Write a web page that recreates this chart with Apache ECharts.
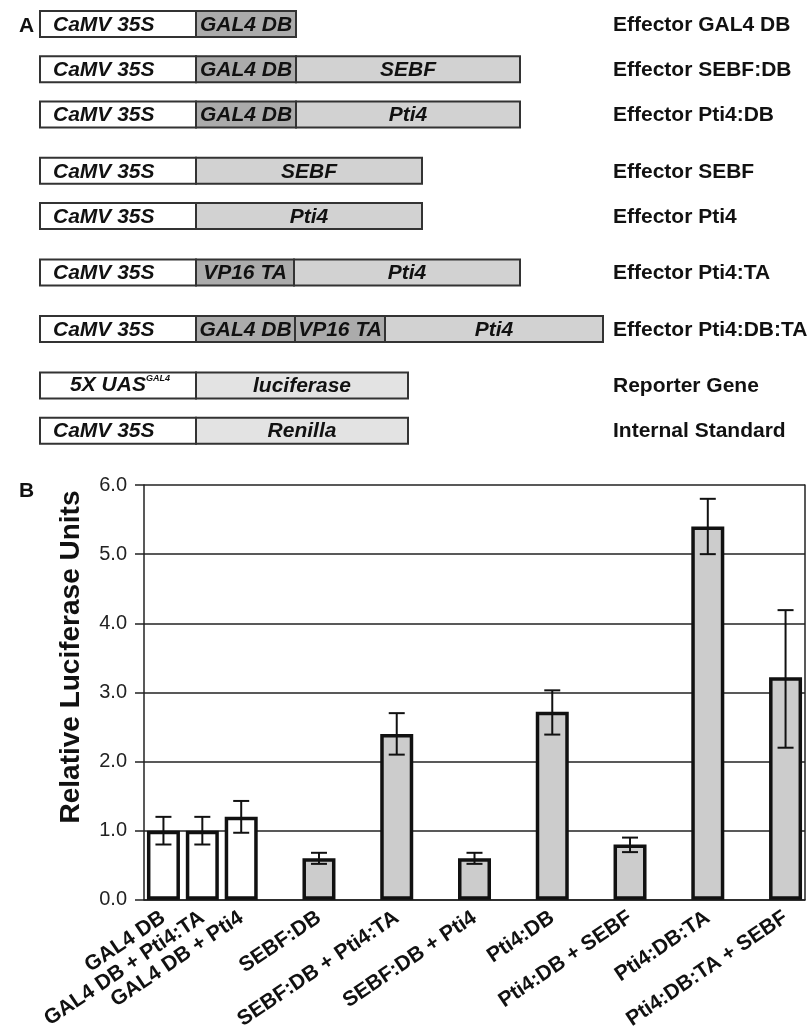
<!DOCTYPE html>
<html>
<head>
<meta charset="utf-8">
<script src="https://cdn.jsdelivr.net/npm/echarts@6/dist/echarts.min.js"></script>
<style>
html,body{margin:0;padding:0;background:#fff;}
#c{width:811px;height:1032px;}
</style>
</head>
<body>
<div id="c"></div>
<script>
// ---------- Panel A data: constructs ----------
const constructNames = ['Effector GAL4 DB','Effector SEBF:DB','Effector Pti4:DB','Effector SEBF','Effector Pti4','Effector Pti4:TA','Effector Pti4:DB:TA','Reporter Gene','Internal Standard'];
const partLabels = [
  ['CaMV 35S','GAL4 DB'],
  ['CaMV 35S','GAL4 DB','SEBF'],
  ['CaMV 35S','GAL4 DB','Pti4'],
  ['CaMV 35S','SEBF'],
  ['CaMV 35S','Pti4'],
  ['CaMV 35S','VP16 TA','Pti4'],
  ['CaMV 35S','GAL4 DB','VP16 TA','Pti4'],
  ['5X UAS','luciferase'],
  ['CaMV 35S','Renilla']
];
const partLengths = [
  [156,100],
  [156,100,224],
  [156,100,224],
  [156,226],
  [156,226],
  [156,98,226],
  [156,99,90,218],
  [156,212],
  [156,212]
];
const promoterParts = ['CaMV 35S','5X UAS'];
const domainParts = ['GAL4 DB','VP16 TA'];
const reporterParts = ['luciferase','Renilla'];

// ---------- Panel B data ----------
const categories = ['GAL4 DB','GAL4 DB + Pti4:TA','GAL4 DB + Pti4','SEBF:DB','SEBF:DB + Pti4:TA','SEBF:DB + Pti4','Pti4:DB','Pti4:DB + SEBF','Pti4:DB:TA','Pti4:DB:TA + SEBF'];
const values  = [1.0, 1.0, 1.2, 0.6, 2.4, 0.6, 2.72, 0.8, 5.4, 3.22];
const errLow  = [0.8, 0.8, 0.97, 0.52, 2.1, 0.52, 2.39, 0.69, 5.0, 2.2];
const errHigh = [1.2, 1.2, 1.43, 0.68, 2.7, 0.68, 3.03, 0.9, 5.8, 4.19];
const yTicks = [0, 1, 2, 3, 4, 5, 6];

// ---------- layout (spacing only) ----------
const rowGapBefore = [0,4,4,5,4,5,5,5,4];   // vertical spacing units between construct rows
const spacerBefore = [0,0,0,1,1,1,1,1,1,1]; // empty slots before each bar
const FONT = '"Liberation Sans", Arial, Helvetica, sans-serif';

// build panel A slots
const rowSlot = [];
let s = 0;
rowGapBefore.forEach((g,i)=>{ s += g; rowSlot.push(s); });
const aSlots = [];
for (let i=0;i<=s;i++) aSlots.push('r'+i);

// build panel B slots
const axisCats = [];
const barSlot = [];
categories.forEach((c,i)=>{
  for (let k=0;k<spacerBefore[i];k++) axisCats.push('');
  barSlot.push(axisCats.length);
  axisCats.push(c);
});
const barData = axisCats.map(()=>'-');
categories.forEach((c,i)=>{
  const ctrl = c.indexOf('GAL4 DB') === 0;
  barData[barSlot[i]] = {value: values[i], itemStyle:{color: ctrl ? '#ffffff' : '#cccccc'}};
});
const errData = categories.map((c,i)=>[barSlot[i], errLow[i], errHigh[i]]);

function fillOf(label){
  if (promoterParts.indexOf(label)>=0) return '#ffffff';
  if (domainParts.indexOf(label)>=0) return '#ababab';
  if (reporterParts.indexOf(label)>=0) return '#e3e3e3';
  return '#d2d2d2';
}

const chart = echarts.init(document.getElementById('c'), null, {renderer:'canvas'});
chart.setOption({
  animation:false,
  backgroundColor:'#fff',
  title:[
    {text:'A', left:14, top:11, textStyle:{fontFamily:FONT, fontWeight:'bold', fontSize:21, color:'#111'}},
    {text:'B', left:14, top:476, textStyle:{fontFamily:FONT, fontWeight:'bold', fontSize:21, color:'#111'}}
  ],
  grid:[
    {left:40, top:18.35, width:600, height:418},
    {left:144, right:6, top:485, bottom:130}
  ],
  xAxis:[
    {gridIndex:0, type:'value', min:0, max:600, show:false},
    {gridIndex:1, type:'category', data:axisCats,
      axisLine:{show:true, lineStyle:{color:'#222', width:1.5}},
      axisTick:{show:false},
      axisLabel:{interval:0, rotate:34, margin:16, fontFamily:FONT, fontWeight:'bold', fontSize:21, color:'#111'}
    }
  ],
  yAxis:[
    {gridIndex:0, type:'category', data:aSlots, inverse:true, show:false},
    {gridIndex:1, type:'value', min:yTicks[0], max:yTicks[yTicks.length-1], interval:1,
      axisLine:{show:true, lineStyle:{color:'#222', width:1.5}},
      axisTick:{show:true, inside:false, length:9, lineStyle:{color:'#222', width:1.5}},
      axisLabel:{margin:17, fontFamily:FONT, fontSize:20, color:'#222', formatter:v=>v.toFixed(1)},
      splitLine:{show:true, lineStyle:{color:'#222', width:1.5}}
    },
    {gridIndex:1, type:'value', min:yTicks[0], max:yTicks[yTicks.length-1], interval:1, position:'right',
      axisLine:{show:true, lineStyle:{color:'#222', width:1.5}},
      axisTick:{show:false}, axisLabel:{show:false}, splitLine:{show:false}
    }
  ],
  graphic:[
    {type:'text', x:71, y:657, rotation:Math.PI/2,
      style:{text:'Relative Luciferase Units', align:'center', verticalAlign:'middle',
        font:'bold 28px '+FONT, fill:'#111'}}
  ],
  series:[
    {
      type:'custom', xAxisIndex:0, yAxisIndex:0,
      data: constructNames.map((n,i)=>[0, rowSlot[i]]),
      encode:{x:0, y:1},
      clip:false,
      renderItem:(params, api)=>{
        const i = params.dataIndex;
        const slot = api.value(1);
        const yc = api.coord([0, slot])[1];
        const h = 26;
        const children = [];
        let start = 0;
        partLabels[i].forEach((lab, k)=>{
          const end = start + partLengths[i][k];
          const x0 = api.coord([start, slot])[0];
          const x1 = api.coord([end, slot])[0];
          children.push({type:'rect', shape:{x:x0, y:yc-h/2, width:x1-x0, height:h},
            style:{fill:fillOf(lab), stroke:'#333', lineWidth:2}});
          const isProm = lab === 'CaMV 35S';
          let textStyle;
          if (lab === '5X UAS') {
            textStyle = {text:'{m|5X UAS}{s|GAL4}', x:(x0+x1)/2+2, y:yc, align:'center', verticalAlign:'middle',
              rich:{m:{fontFamily:FONT, fontWeight:'bold', fontStyle:'italic', fontSize:21, lineHeight:22, fill:'#111', color:'#111'},
                    s:{fontFamily:FONT, fontWeight:'bold', fontStyle:'italic', fontSize:9, verticalAlign:'top', fill:'#111', color:'#111'}}};
          } else {
            textStyle = {text:lab, x: isProm ? x0+13 : (x0+x1)/2, y:yc+1, align: isProm ? 'left':'center',
              verticalAlign:'middle', font:'italic bold 21px '+FONT, fill:'#111'};
          }
          children.push({type:'text', style:textStyle});
          start = end;
        });
        const xl = api.coord([573, slot])[0];
        children.push({type:'text', style:{text:constructNames[i], x:xl, y:yc+1, align:'left', verticalAlign:'middle',
          font:'bold 21px '+FONT, fill:'#111'}});
        return {type:'group', children};
      }
    },
    {
      type:'bar', xAxisIndex:1, yAxisIndex:1,
      data:barData, barWidth:33,
      itemStyle:{borderColor:'#111', borderWidth:3.5},
      z:3
    },
    {
      type:'custom', xAxisIndex:1, yAxisIndex:1,
      data:errData, z:5,
      renderItem:(params, api)=>{
        const c = api.value(0);
        const lo = api.coord([c, api.value(1)]);
        const hi = api.coord([c, api.value(2)]);
        const hw = 8;
        const st = {stroke:'#111', lineWidth:2};
        return {type:'group', children:[
          {type:'line', shape:{x1:lo[0], y1:lo[1], x2:hi[0], y2:hi[1]}, style:st},
          {type:'line', shape:{x1:lo[0]-hw, y1:lo[1], x2:lo[0]+hw, y2:lo[1]}, style:st},
          {type:'line', shape:{x1:hi[0]-hw, y1:hi[1], x2:hi[0]+hw, y2:hi[1]}, style:st}
        ]};
      }
    }
  ]
});
</script>
</body>
</html>
